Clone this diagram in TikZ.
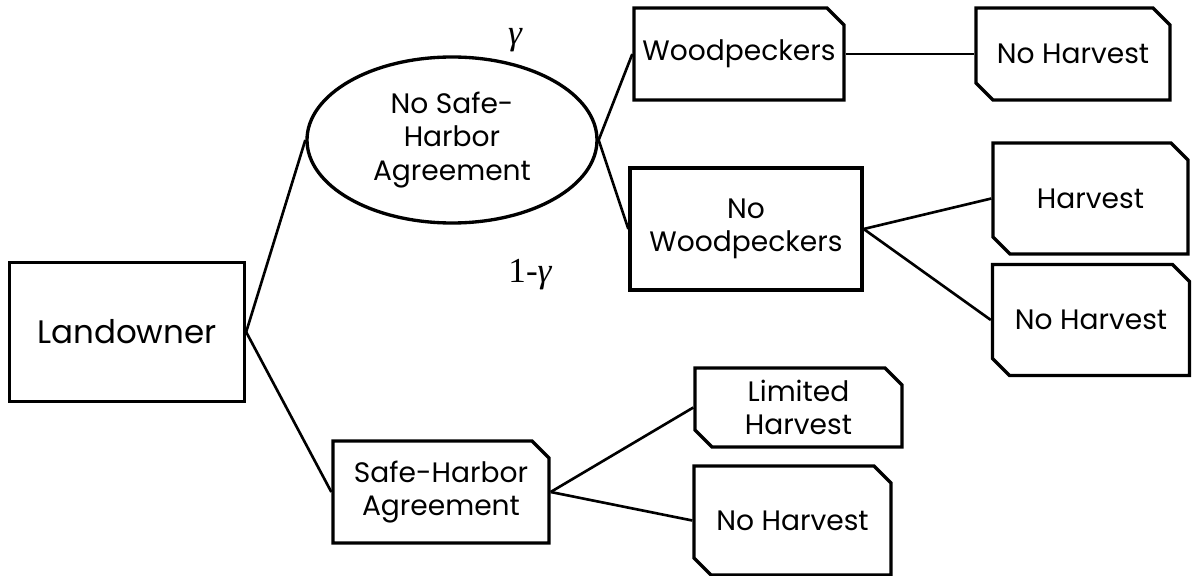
\documentclass[tikz,border=0pt]{standalone}
\usepackage{fontspec}
\setmainfont{Poppins}
\newfontfamily\probfont{Liberation Serif}
\usetikzlibrary{shapes.geometric, shapes.misc}

\begin{document}
\begin{tikzpicture}[every node/.style={font=\fontsize{16}{19}\selectfont},
    choice/.style={draw, line width=1.9pt, rectangle, align=center, inner sep=0pt},
    chance/.style={draw, line width=1.9pt, ellipse, align=center, inner sep=0pt},
    branch/.style={draw, line width=1.9pt, chamfered rectangle, align=center, inner sep=0pt,
      chamfered rectangle corners=north east,
      chamfered rectangle xsep=0.17cm, chamfered rectangle ysep=0.17cm},
    payoff/.style={branch, chamfered rectangle corners={north east, south west}},
    link/.style={line width=1.5pt},
    prob/.style={font=\probfont\fontsize{20}{24}\selectfont}]
    \useasboundingbox (0, 0) rectangle (23.92, -11.52);
    % decision and chance nodes
    \node[choice, minimum width=4.7cm, minimum height=2.78cm,
      font=\fontsize{18.5}{22}\selectfont] (land) at (2.54, -6.64) {Landowner};
    \node[chance, minimum width=5.8cm, minimum height=3.32cm] (nosha) at (9.04, -2.8)
      {No Safe-\\Harbor\\Agreement};
    \node[branch, minimum width=4.2cm, minimum height=1.84cm] (wood) at (14.78, -1.08) {Woodpeckers};
    \node[choice, minimum width=4.64cm, minimum height=2.44cm] (nowood) at (14.92, -4.58)
      {No\\Woodpeckers};
    \node[branch, minimum width=4.32cm, minimum height=2.04cm] (sha) at (8.82, -9.84)
      {Safe-Harbor\\Agreement};
    % outcomes
    \node[payoff, minimum width=3.88cm, minimum height=1.84cm] (nh1) at (21.46, -1.08) {No Harvest};
    \node[payoff, minimum width=3.9cm, minimum height=2.22cm] (hv) at (21.81, -3.97) {Harvest};
    \node[payoff, minimum width=3.94cm, minimum height=2.22cm] (nh2) at (21.82, -6.4) {No Harvest};
    \node[payoff, minimum width=4.14cm, minimum height=1.58cm] (lh) at (15.97, -8.15)
      {Limited\\Harvest};
    \node[payoff, minimum width=3.94cm, minimum height=2.18cm] (nh3) at (15.85, -10.41) {No Harvest};
    % probabilities
    \node[prob] (g1) at (10.3, -0.8) {\itshape γ};
    \node[prob] (g2) at (10.6, -5.5) {1-\itshape γ};
    % branches
    \draw[link] (land.east) -- (nosha.west);
    \draw[link] (land.east) -- (sha.west);
    \draw[link] (nosha.east) -- (wood.west);
    \draw[link] (nosha.east) -- (nowood.west);
    \draw[link] (wood.east) -- (nh1.west);
    \draw[link] (nowood.east) -- (hv.west);
    \draw[link] (nowood.east) -- (nh2.west);
    \draw[link] (sha.east) -- (lh.west);
    \draw[link] (sha.east) -- (nh3.west);
  \end{tikzpicture}
\end{document}
